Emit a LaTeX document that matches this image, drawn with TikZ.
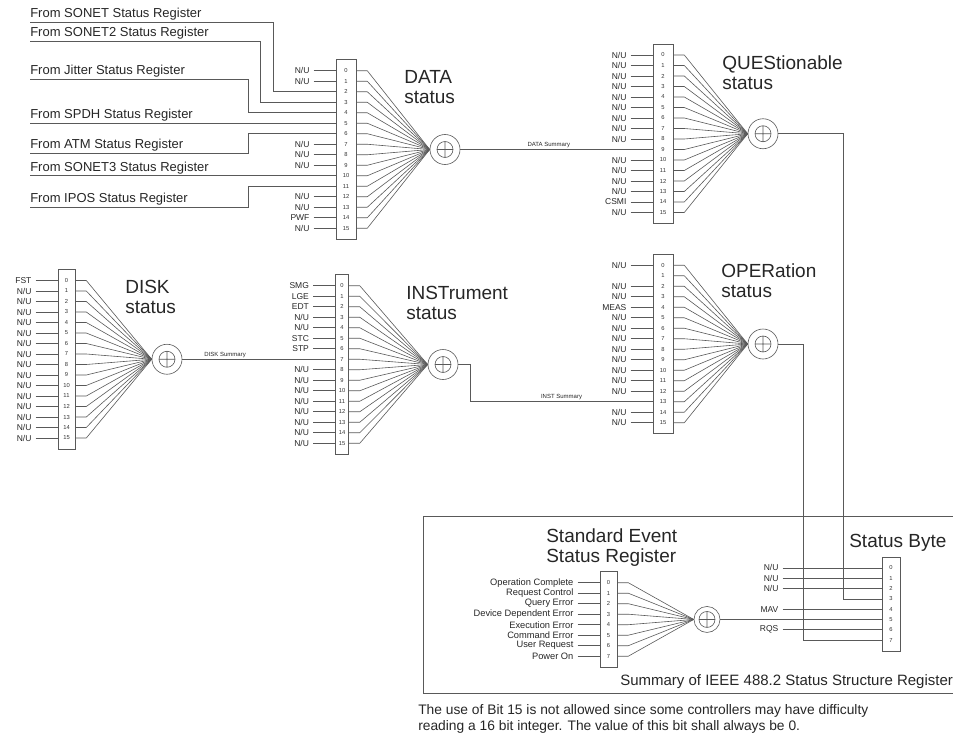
\documentclass[tikz,border=0pt]{standalone}
\usepackage{fontspec}
\setmainfont{Liberation Sans}
\usetikzlibrary{calc,positioning}
\definecolor{wire}{gray}{0.35}
\newcommand{\nuLbl}{N/U}

\begin{document}
\begin{tikzpicture}[x=1pt,y=-1pt,line width=.6pt,color=wire]

\tikzset{regbox/.style={draw,inner sep=0pt,minimum height=179.5,minimum width=20},
bitnum/.style={font=\fontsize{5.8}{6}\selectfont,inner sep=0pt,text=black!80},
bitlbl/.style={font=\fontsize{8.5}{9}\selectfont,anchor=east,inner xsep=4pt,inner ysep=0pt,text=black!85},
eventlbl/.style={bitlbl,font=\fontsize{9.3}{10}\selectfont},
sumnode/.style={circle,draw,fill=white,inner sep=0pt,minimum size=30,
  path picture={\draw (path picture bounding box.center) circle (8) +(-8,0) -- +(8,0) +(0,-8) -- +(0,8);}},
regtitle/.style={font=\fontsize{19}{20}\selectfont,align=left,anchor=west,inner sep=0pt,text=black!85},
fromlbl/.style={font=\fontsize{13}{14}\selectfont,anchor=south west,inner xsep=0pt,inner ysep=1.5pt,text=black!85},
sumlbl/.style={font=\fontsize{6}{7}\selectfont,inner sep=1.5pt,text=black!85}}

\useasboundingbox (0,0) rectangle (953,741);

% DATA status
\node[regbox] (dataReg) at (346,149.5) {};
\foreach \i in {0,...,15} \node[bitnum] (d\i) at ($(dataReg.center)+(0,{(\i-7.5)*10.5})$) {\i};
\foreach \i/\t in {0/\nuLbl,1/\nuLbl,7/\nuLbl,8/\nuLbl,9/\nuLbl,12/\nuLbl,13/\nuLbl,14/PWF,15/\nuLbl}{
  \node[bitlbl] (dl\i) at ($(d\i -| dataReg.west)+(-22,0)$) {\t};
  \draw (dl\i.east) -- (d\i -| dataReg.west);}
\node[sumnode] (dataSum) at (445,149.5) {};
\foreach \i in {0,...,15} \draw (d\i -| dataReg.east) -- ++(11,0) -- (dataSum.west);
\node[regtitle] (dataTitle) at (404,87) {DATA\\status};

% Other registers feeding DATA
\coordinate (fromX) at (30,0);
\node[fromlbl] (fSonet) at (30,22) {From SONET Status Register};
\node[fromlbl] (fSonetB) at (30,41) {From SONET2 Status Register};
\node[fromlbl] (fJitter) at (30,79) {From Jitter Status Register};
\node[fromlbl] (fSpdh) at (d5 -| fromX) {From SPDH Status Register};
\node[fromlbl] (fAtm) at (30,153) {From ATM Status Register};
\node[fromlbl] (fSonetC) at (d10 -| fromX) {From SONET3 Status Register};
\node[fromlbl] (fIpos) at (30,207) {From IPOS Status Register};
\draw (fSonet.south west) -- ++(243,0) |- (d2 -| dataReg.west);
\draw (fSonetB.south west) -- ++(230,0) |- (d3 -| dataReg.west);
\draw (fJitter.south west) -- ++(218,0) |- (d4 -| dataReg.west);
\draw (fSpdh.south west) -- (d5 -| dataReg.west);
\draw (fAtm.south west) -- ++(218,0) |- (d6 -| dataReg.west);
\draw (fSonetC.south west) -- (d10 -| dataReg.west);
\draw (fIpos.south west) -- ++(218,0) |- (d11 -| dataReg.west);

% QUEStionable status
\node[regbox] (quesReg) at (663,133.75) {};
\foreach \i in {0,...,15} \node[bitnum] (q\i) at ($(quesReg.center)+(0,{(\i-7.5)*10.5})$) {\i};
\foreach \i/\t in {0/\nuLbl,1/\nuLbl,2/\nuLbl,3/\nuLbl,4/\nuLbl,5/\nuLbl,6/\nuLbl,7/\nuLbl,8/\nuLbl,10/\nuLbl,11/\nuLbl,12/\nuLbl,13/\nuLbl,14/CSMI,15/\nuLbl}{
  \node[bitlbl] (ql\i) at ($(q\i -| quesReg.west)+(-22,0)$) {\t};
  \draw (ql\i.east) -- (q\i -| quesReg.west);}
\node[sumnode] (quesSum) at (763,133.75) {};
\foreach \i in {0,...,15} \draw (q\i -| quesReg.east) -- ++(11,0) -- (quesSum.west);
\node[regtitle] (quesTitle) at (722,72.5) {QUEStionable\\status};

% DISK status
\node[regbox,minimum width=17] (diskReg) at (66.5,359.25) {};
\foreach \i in {0,...,15} \node[bitnum] (k\i) at ($(diskReg.center)+(0,{(\i-7.5)*10.5})$) {\i};
\foreach \i/\t in {0/FST,1/\nuLbl,2/\nuLbl,3/\nuLbl,4/\nuLbl,5/\nuLbl,6/\nuLbl,7/\nuLbl,8/\nuLbl,9/\nuLbl,10/\nuLbl,11/\nuLbl,12/\nuLbl,13/\nuLbl,14/\nuLbl,15/\nuLbl}{
  \node[bitlbl] (kl\i) at ($(k\i -| diskReg.west)+(-22,0)$) {\t};
  \draw (kl\i.east) -- (k\i -| diskReg.west);}
\node[sumnode] (diskSum) at (167,359.25) {};
\foreach \i in {0,...,15} \draw (k\i -| diskReg.east) -- ++(11,0) -- (diskSum.west);
\node[regtitle] (diskTitle) at (125,297) {DISK\\status};

% INSTrument status
\node[regbox,minimum width=13] (instReg) at (342,364.5) {};
\foreach \i in {0,...,15} \node[bitnum] (n\i) at ($(instReg.center)+(0,{(\i-7.5)*10.5})$) {\i};
\foreach \i/\t in {0/SMG,1/LGE,2/EDT,3/\nuLbl,4/\nuLbl,5/STC,6/STP,8/\nuLbl,9/\nuLbl,10/\nuLbl,11/\nuLbl,12/\nuLbl,13/\nuLbl,14/\nuLbl,15/\nuLbl}{
  \node[bitlbl] (nl\i) at ($(n\i -| instReg.west)+(-22,0)$) {\t};
  \draw (nl\i.east) -- (n\i -| instReg.west);}
\node[sumnode] (instSum) at (443,364.5) {};
\foreach \i in {0,...,15} \draw (n\i -| instReg.east) -- ++(11,0) -- (instSum.west);
\node[regtitle] (instTitle) at (406,303) {INSTrument\\status};

% OPERation status
\node[regbox] (operReg) at (663,344) {};
\foreach \i in {0,...,15} \node[bitnum] (o\i) at ($(operReg.center)+(0,{(\i-7.5)*10.5})$) {\i};
\foreach \i/\t in {0/\nuLbl,2/\nuLbl,3/\nuLbl,4/MEAS,5/\nuLbl,6/\nuLbl,7/\nuLbl,8/\nuLbl,9/\nuLbl,10/\nuLbl,11/\nuLbl,12/\nuLbl,14/\nuLbl,15/\nuLbl}{
  \node[bitlbl] (ol\i) at ($(o\i -| operReg.west)+(-22,0)$) {\t};
  \draw (ol\i.east) -- (o\i -| operReg.west);}
\node[sumnode] (operSum) at (763,344) {};
\foreach \i in {0,...,15} \draw (o\i -| operReg.east) -- ++(11,0) -- (operSum.west);
\node[regtitle] (operTitle) at (721,280.5) {OPERation\\status};

% Summary connections
\draw (dataSum.east) -- node[sumlbl,above,pos=.46] (dataSumLbl) {DATA Summary} (q9 -| quesReg.west);
\draw (diskSum.east) -- node[sumlbl,above,pos=.28] (diskSumLbl) {DISK Summary} (n7 -| instReg.west);
\draw (instSum.east) -- ++(12,0) |- node[sumlbl,above,pos=.75] (instSumLbl) {INST Summary} (o13 -| operReg.west);

% IEEE 488.2 frame
\draw (423,516) rectangle (965,693);
\node[anchor=west,inner sep=0pt,font=\fontsize{15}{17}\selectfont,text=black!85] (frameCaption) at (620,682) {Summary of IEEE 488.2 Status Structure Registers};

% Standard Event Status Register
\node[regbox,minimum width=17,minimum height=95.5] (seReg) at (608.5,619.45) {};
\foreach \i in {0,...,7} \node[bitnum] (e\i) at ($(seReg.center)+(0,{(\i-3.5)*10.5})$) {\i};
\foreach \i/\t in {0/Operation Complete,1/Request Control,2/Query Error,3/Device Dependent Error,4/Execution Error,5/Command Error,6/User Request,7/Power On}{
  \node[eventlbl] (el\i) at ($(e\i -| seReg.west)+(-22,0)$) {\t};
  \draw (el\i.east) -- (e\i -| seReg.west);}
\node[sumnode,minimum size=26] (seSum) at (707,619.45) {};
\foreach \i in {0,...,7} \draw (e\i -| seReg.east) -- ++(11,0) -- (seSum.west);
\node[regtitle] (seTitle) at (546,547.5) {Standard Event\\Status Register};

% Status Byte
\node[regbox,minimum width=18,minimum height=94] (sbReg) at (891,604) {};
\foreach \i in {0,...,7} \node[bitnum] (s\i) at ($(sbReg.center)+(0,{(\i-3.5)*10.3})$) {\i};
\foreach \i/\t in {0/\nuLbl,1/\nuLbl,2/\nuLbl,4/MAV,6/RQS}{
  \node[bitlbl] (sl\i) at ($(s\i -| sbReg.west)+(-99,0)$) {\t};
  \draw (sl\i.east) -- (s\i -| sbReg.west);}
\node[regtitle] (sbTitle) at (849,543) {Status Byte};
\draw (quesSum.east) -- ++(65,0) |- (s3 -| sbReg.west);
\draw (operSum.east) -- ++(25,0) |- (s7 -| sbReg.west);
\draw (seSum.east) -- (s5 -| sbReg.west);

% Note
\node[anchor=north west,align=left,inner sep=0pt,font=\fontsize{13.8}{16}\selectfont,text=black!85] (bitNote) at (418,704) {The use of Bit 15 is not allowed since some controllers may have difficulty\\reading a 16 bit integer. The value of this bit shall always be 0.};

\end{tikzpicture}
\end{document}
